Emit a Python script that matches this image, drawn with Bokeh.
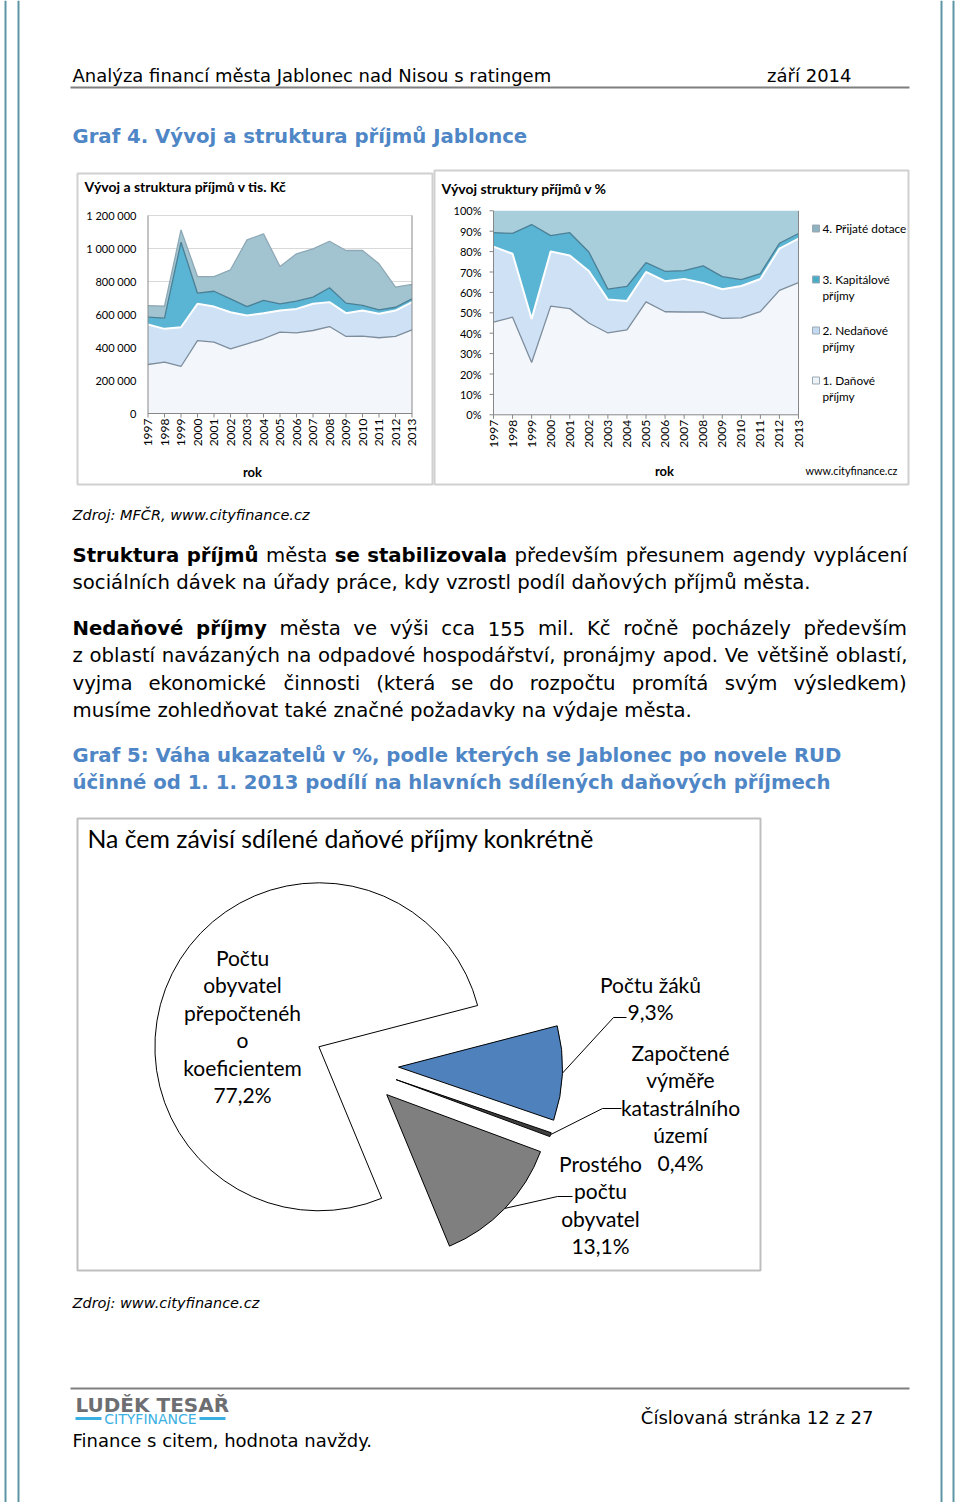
import unicodedata
import numpy as np
from bokeh.plotting import figure
from bokeh.models import Range1d, ColumnDataSource
from bokeh.core.properties import value
from bokeh.embed import file_html
from bokeh.resources import INLINE

# ---------------- data ----------------
years = [1997, 1998, 1999, 2000, 2001, 2002, 2003, 2004, 2005,
         2006, 2007, 2008, 2009, 2010, 2011, 2012, 2013]
danove_prijmy = [297000, 311000, 285000, 442000, 432000, 392000, 422000, 453000, 493000,
                 489000, 503000, 527000, 467000, 469000, 459000, 467000, 507000]
nedanove_prijmy = [242000, 202000, 238000, 223000, 216000, 222000, 172000, 155000, 131000,
                   145000, 162000, 148000, 141000, 155000, 145000, 157000, 168000]
kapitalove_prijmy = [45000, 65000, 515000, 64000, 93000, 81000, 54000, 77000, 41000,
                     47000, 40000, 87000, 61000, 31000, 24000, 20000, 20000]
prijate_dotace = [70000, 72000, 75000, 101000, 89000, 176000, 404000, 404000, 226000,
                  287000, 293000, 282000, 319000, 333000, 279000, 122000, 87000]
legend_lines = [["4. Přijaté dotace"], ["3. Kapitálové", "příjmy"],
                ["2. Nedaňové", "příjmy"], ["1. Daňové", "příjmy"]]
abs_ticks = [0, 200000, 400000, 600000, 800000, 1000000, 1200000]
abs_tick_labels = ["0", "200 000", "400 000", "600 000", "800 000", "1 000 000", "1 200 000"]
pct_ticks = [0, 10, 20, 30, 40, 50, 60, 70, 80, 90, 100]
pct_tick_labels = ["0%", "10%", "20%", "30%", "40%", "50%", "60%", "70%", "80%", "90%", "100%"]

pie_names = [["Počtu", "obyvatel", "přepočtenéh", "o", "koeficientem"],
             ["Počtu žáků"],
             ["Započtené", "výměře", "katastrálního", "území"],
             ["Prostého", "počtu", "obyvatel"]]
pie_values = [77.2, 9.3, 0.4, 13.1]
pie_value_labels = ["77,2%", "9,3%", "0,4%", "13,1%"]

# ---------------- page set-up ----------------
W, H = 960, 1502
BODY = "DejaVu Sans"
CAL = "Lato"


def X(sx):
    return sx


def Y(sy):
    return H - sy


p = figure(width=W, height=H, x_range=Range1d(0, W), y_range=Range1d(0, H),
           output_backend="svg", toolbar_location=None, min_border=0,
           x_axis_location=None, y_axis_location=None)
p.grid.visible = False
p.outline_line_color = None
p.background_fill_color = "white"
p.border_fill_color = "white"


def T(sx, sy, s, size, font=BODY, color="#000000", style="normal", align="left", **kw):
    p.text(x=[X(sx)], y=[Y(sy)], text=[s], text_font=value(font),
           text_font_size=f"{size}px", text_color=color, text_font_style=style,
           text_align=align, text_baseline="middle", **kw)


def hline(x0, x1, sy, color, width=1):
    p.segment(x0=[X(x0)], x1=[X(x1)], y0=[Y(sy)], y1=[Y(sy)], line_color=color, line_width=width)


def box(x0, x1, y0, y1, color, width=1.5):
    p.quad(left=[X(x0)], right=[X(x1)], top=[Y(y0)], bottom=[Y(y1)],
           fill_color=None, line_color=color, line_width=width)


NORM = {' ': .318, '(': .390, ')': .390, ',': .318, '.': .318, ':': .337, '%': .950,
        'A': .684, 'C': .698, 'K': .656, 'N': .748, 'R': .695, 'S': .635, 'V': .684,
        'a': .613, 'b': .635, 'c': .550, 'd': .635, 'e': .615, 'f': .352, 'g': .635,
        'h': .634, 'i': .278, 'j': .278, 'k': .579, 'l': .278, 'm': .974, 'n': .634,
        'o': .612, 'p': .635, 'q': .635, 'r': .411, 's': .521, 't': .392, 'u': .634,
        'v': .592, 'w': .818, 'x': .592, 'y': .592, 'z': .525}
for d in "0123456789":
    NORM[d] = .636
BOLD = {' ': .348, ',': .380, '.': .380, ':': .400, '%': 1.002,
        'N': .837, 'S': .720, 'G': .821, 'V': .774, 'J': .372, 'R': .770,
        'a': .675, 'b': .716, 'c': .593, 'd': .716, 'e': .678, 'f': .435, 'g': .716,
        'h': .712, 'i': .343, 'j': .343, 'k': .665, 'l': .343, 'm': 1.042, 'n': .712,
        'o': .687, 'p': .716, 'q': .716, 'r': .493, 's': .595, 't': .478, 'u': .712,
        'v': .652, 'w': .924, 'x': .645, 'y': .652, 'z': .582}


def tw(s, size, bold=False):
    tbl = BOLD if bold else NORM
    tot = 0.0
    for ch in s:
        base = unicodedata.normalize("NFD", ch)[0]
        tot += tbl.get(base, .70 if bold else .60)
    return tot * size


def justify(tokens, x0, x1, sy, size):
    ws = [tw(t, size, b) for t, b in tokens]
    gap = (x1 - x0 - sum(ws)) / (len(tokens) - 1)
    x = x0
    for (t, b), w in zip(tokens, ws):
        T(x, sy, t, size, style="bold" if b else "normal")
        x += w + gap


def words(s, bold=False):
    return [(w, bold) for w in s.split(" ")]


# ---------------- page decoration ----------------
for sx in (5, 18, 941, 953):
    p.segment(x0=[X(sx)], x1=[X(sx)], y0=[0], y1=[H], line_color="#5e95a5", line_width=2)

T(72, 75, "Analýza financí města Jablonec nad Nisou s ratingem", 18)
T(851, 75, "září 2014", 18, align="right")
hline(70, 909, 87, "#7f7f7f", 2)
T(72, 136, "Graf 4. Vývoj a struktura příjmů Jablonce", 19.7, color="#4f86c6", style="bold")

# ---------------- chart boxes ----------------
box(77, 432, 173, 484, "#d0d0d0", 2)
box(434, 908, 170, 484, "#d0d0d0", 2)


def xmap(v0, s0, v1, s1):
    k = (v1 - v0) / (X(s1) - X(s0))
    start = v0 - X(s0) * k
    return Range1d(start, start + W * k)


def ymap(v0, s0, v1, s1):
    k = (v1 - v0) / (Y(s1) - Y(s0))
    start = v0 - Y(s0) * k
    return Range1d(start, start + H * k)


p.extra_x_ranges = {"Lx": xmap(1997, 147.5, 2013, 411.5), "Rx": xmap(1997, 493, 2013, 798)}
p.extra_y_ranges = {"Ly": ymap(0, 413, 1200000, 215), "Ry": ymap(0, 414.3, 100, 210.3)}

src_abs = ColumnDataSource(dict(year=years, dan=danove_prijmy, ned=nedanove_prijmy,
                                kap=kapitalove_prijmy, dot=prijate_dotace))
stack = np.cumsum(np.array([danove_prijmy, nedanove_prijmy, kapitalove_prijmy, prijate_dotace],
                           dtype=float), axis=0)
total = stack[-1]
pct = {k: np.array(v, dtype=float) / total * 100 for k, v in
       dict(dan=danove_prijmy, ned=nedanove_prijmy, kap=kapitalove_prijmy, dot=prijate_dotace).items()}
src_pct = ColumnDataSource(dict(year=years, **pct))
stack_pct = stack / total * 100

area_colors_L = ["#f3f7fc", "#cfe1f5", "#5ab4d4", "#a2c4d1"]
area_colors_R = ["#f3f7fc", "#cfe1f5", "#5ab4d4", "#a8cddb"]
line_colors = ["#7d8d9c", "#ffffff", "#4a7f95", "#8ea9b5"]

# left chart: gridlines
for t in abs_ticks[1:]:
    p.segment(x0=[1997], x1=[2013], y0=[t], y1=[t], line_color="#d9d9d9", line_width=1,
              x_range_name="Lx", y_range_name="Ly")
p.varea_stack(["dan", "ned", "kap", "dot"], x="year", color=area_colors_L, source=src_abs,
              x_range_name="Lx", y_range_name="Ly")
for i in range(4):
    p.line(x=years, y=stack[i], line_color=line_colors[i], line_width=1.3 if i != 1 else 2,
           x_range_name="Lx", y_range_name="Ly")

# right chart
p.varea_stack(["dan", "ned", "kap", "dot"], x="year", color=area_colors_R, source=src_pct,
              x_range_name="Rx", y_range_name="Ry")
for i in range(3):
    p.line(x=years, y=stack_pct[i], line_color=line_colors[i], line_width=1.3 if i != 1 else 2,
           x_range_name="Rx", y_range_name="Ry")

# axes (drawn through each chart's own scales)
for xr, yr, ymax, ytks, ytl, lab_x in (
        ("Lx", "Ly", 1200000, abs_ticks, abs_tick_labels, 136),
        ("Rx", "Ry", 100, pct_ticks, pct_tick_labels, 481)):
    p.segment(x0=[1997, 1997, 2013], x1=[2013, 1997, 2013], y0=[0, 0, 0], y1=[0, ymax, ymax],
              line_color="#878787", line_width=1, x_range_name=xr, y_range_name=yr)
    base_y = 413 if xr == "Lx" else 414.3
    p.segment(x0=years, x1=years, y0=[Y(base_y)] * len(years), y1=[Y(base_y + 4)] * len(years),
              line_color="#878787", line_width=1, x_range_name=xr)
    p.text(x=years, y=[Y(base_y + 5)] * len(years), text=[str(v) for v in years], angle=np.pi / 2,
           text_align="right", text_baseline="middle", text_font=value(CAL),
           text_font_size="12px", text_color="#000000", x_range_name=xr)
    ax_x = 147.5 if xr == "Lx" else 493
    if xr == "Rx":
        p.segment(x0=[X(ax_x - 4)] * len(ytks), x1=[X(ax_x)] * len(ytks), y0=ytks, y1=ytks,
                  line_color="#878787", line_width=1, y_range_name=yr)
    p.text(x=[X(lab_x)] * len(ytks), y=ytks, text=ytl, text_align="right", text_baseline="middle",
           text_font=value(CAL), text_font_size="11px", text_color="#000000", y_range_name=yr)

T(84, 186, "Vývoj a struktura příjmů v tis. Kč", 14, font=CAL, style="bold")
T(441, 188, "Vývoj struktury příjmů v %", 14, font=CAL, style="bold")
T(252, 471, "rok", 13, font=CAL, style="bold", align="center")
T(664, 470, "rok", 13, font=CAL, style="bold", align="center")
T(851, 470, "www.cityfinance.cz", 10.8, font=CAL, align="center")

# legend
leg_y = [228, 279, 330, 380]
leg_cols = ["#8fb2c0", "#4bacc6", "#c5d9f1", "#eef3f8"]
for (lines, sy, col) in zip(legend_lines, leg_y, leg_cols):
    p.rect(x=[X(815.5)], y=[Y(sy)], width=7, height=7, fill_color=col, line_color="#9aa9b4", line_width=1)
    for j, ln in enumerate(lines):
        T(822, sy + 16 * j, ln, 11.8, font=CAL)

# ---------------- text body ----------------
T(72, 514, "Zdroj: MFČR, www.cityfinance.cz", 14.5, style="italic")
SZ = 19.7
justify(words("Struktura příjmů", True) + words("města") + words("se stabilizovala", True)
        + words("především přesunem agendy vyplácení"), 72, 907, 555, SZ)
T(72, 582, "sociálních dávek na úřady práce, kdy vzrostl podíl daňových příjmů města.", SZ)
justify(words("Nedaňové příjmy", True) + words("města ve výši cca 155 mil. Kč ročně pocházely především"),
        72, 907, 628, SZ)
justify(words("z oblastí navázaných na odpadové hospodářství, pronájmy apod. Ve většině oblastí,"),
        72, 907, 655, SZ)
justify(words("vyjma ekonomické činnosti (která se do rozpočtu promítá svým výsledkem)"),
        72, 907, 683, SZ)
T(72, 710, "musíme zohledňovat také značné požadavky na výdaje města.", SZ)
T(72, 755, "Graf 5: Váha ukazatelů v %, podle kterých se Jablonec po novele RUD", SZ,
  color="#4f86c6", style="bold")
T(72, 782, "účinné od 1. 1. 2013 podílí na hlavních sdílených daňových příjmech", SZ,
  color="#4f86c6", style="bold")

# ---------------- pie ----------------
box(77, 760, 818, 1270, "#bfbfbf", 2)
T(87, 838, "Na čem závisí sdílené daňové příjmy konkrétně", 24.8, font=CAL)

frac = np.array(pie_values) / np.sum(pie_values)
cum = np.concatenate([[0.0], np.cumsum(frac)])
theta0 = np.deg2rad(-67.5)
start = theta0 - cum[1:] * 2 * np.pi
end = theta0 - cum[:-1] * 2 * np.pi
mid = (start + end) / 2
explode = 42
pcx, pcy = X(356), Y(1065)
p.wedge(x=pcx + explode * np.cos(mid), y=pcy + explode * np.sin(mid), radius=164,
        start_angle=start, end_angle=end, direction="anticlock",
        fill_color=["#ffffff", "#4f81bd", "#3f3f3f", "#7f7f7f"], line_color="#000000", line_width=1)

label_pos = [(242, 957), (650, 984), (680, 1052), (600, 1163)]
for names, vl, (lx, ly) in zip(pie_names, pie_value_labels, label_pos):
    for j, ln in enumerate(names + [vl]):
        T(lx, ly + 27.4 * j, ln, 21, font=CAL, align="center")

for i, pts in ((1, [(613, 1017), (626, 1017)]), (2, [(602, 1108), (621, 1108)]),
               (3, [(557, 1196), (572, 1196)])):
    sx0 = pcx + explode * np.cos(mid[i]) + 164 * np.cos(mid[i])
    sy0 = pcy + explode * np.sin(mid[i]) + 164 * np.sin(mid[i])
    xs = [sx0] + [X(a) for a, b in pts]
    ys = [sy0] + [Y(b) for a, b in pts]
    p.line(x=xs, y=ys, line_color="#000000", line_width=1)

T(72, 1302, "Zdroj: www.cityfinance.cz", 14.5, style="italic")

# ---------------- footer ----------------
hline(70, 909, 1388, "#7f7f7f", 2)
T(75, 1404, "LUDĚK TESAŘ", 20, color="#6d6e71", style="bold")
T(150, 1418, "CITYFINANCE", 14, color="#3ab0e2", align="center")
hline(75, 101, 1418, "#3ab0e2", 3)
hline(199, 225, 1418, "#3ab0e2", 3)
T(72, 1440, "Finance s citem, hodnota navždy.", 18)
T(873, 1417, "Číslovaná stránka 12 z 27", 18, align="right")

open("out.html", "w").write(file_html(p, INLINE))
